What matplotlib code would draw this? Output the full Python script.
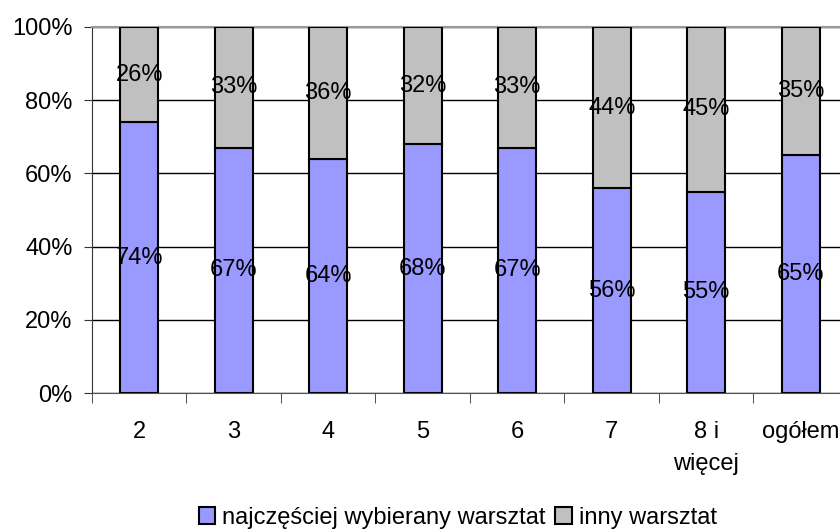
import numpy as np
import matplotlib.pyplot as plt

plt.rcParams['font.family'] = ['Liberation Sans', 'DejaVu Sans']

categories = ["2", "3", "4", "5", "6", "7", "8 i\nwięcej", "ogółem"]
najczesciej = [74, 67, 64, 68, 67, 56, 55, 65]
inny = [26, 33, 36, 32, 33, 44, 45, 35]

fs = 17

fig = plt.figure(figsize=(8.4, 5.29), dpi=100)
ax = fig.add_axes([0.1095, 0.257, 0.9, 0.692])

x = np.arange(len(categories))
b1 = ax.bar(x, najczesciej, width=0.4, color="#9999FF", edgecolor="black", linewidth=1.5,
            label="najczęściej wybierany warsztat", zorder=3)
b2 = ax.bar(x, inny, width=0.4, bottom=najczesciej, color="#C0C0C0", edgecolor="black",
            linewidth=1.5, label="inny warsztat", zorder=3)

for i in range(len(categories)):
  ax.text(x[i], najczesciej[i] / 2, str(najczesciej[i]) + "%", ha="center", va="center",
          fontsize=fs, zorder=4)
  ax.text(x[i], najczesciej[i] + inny[i] / 2, str(inny[i]) + "%", ha="center", va="center",
          fontsize=fs, zorder=4)

ax.set_xlim(-0.5, len(categories) - 0.5)
ax.set_ylim(0, 100)
ax.set_yticks(np.arange(0, 101, 20))
ax.set_yticklabels([str(v) + "%" for v in range(0, 101, 20)], fontsize=fs)
ax.yaxis.grid(True, color="black", linewidth=1, zorder=0)
ax.set_axisbelow(True)

ax.set_xticks(x)
ax.set_xticklabels(categories, fontsize=fs, linespacing=1.6)
ax.set_xticks(np.arange(-0.5, len(categories), 1), minor=True)
ax.tick_params(axis="x", which="major", length=0, pad=20)
ax.tick_params(axis="x", which="minor", length=7, color="#333333")
ax.tick_params(axis="y", length=6, color="#333333", pad=8)

ax.spines["top"].set_color("#999999")
ax.spines["top"].set_linewidth(1.5)
ax.spines["right"].set_visible(False)
ax.spines["left"].set_color("#333333")
ax.spines["bottom"].set_color("#555555")

fig.legend(handles=[b1, b2], loc="lower center", bbox_to_anchor=(0.545, -0.04), ncol=2,
           frameon=False, fontsize=fs, handlelength=0.7, handleheight=0.7,
           handletextpad=0.3, columnspacing=0.4)

fig.savefig("out.png", dpi=100)
